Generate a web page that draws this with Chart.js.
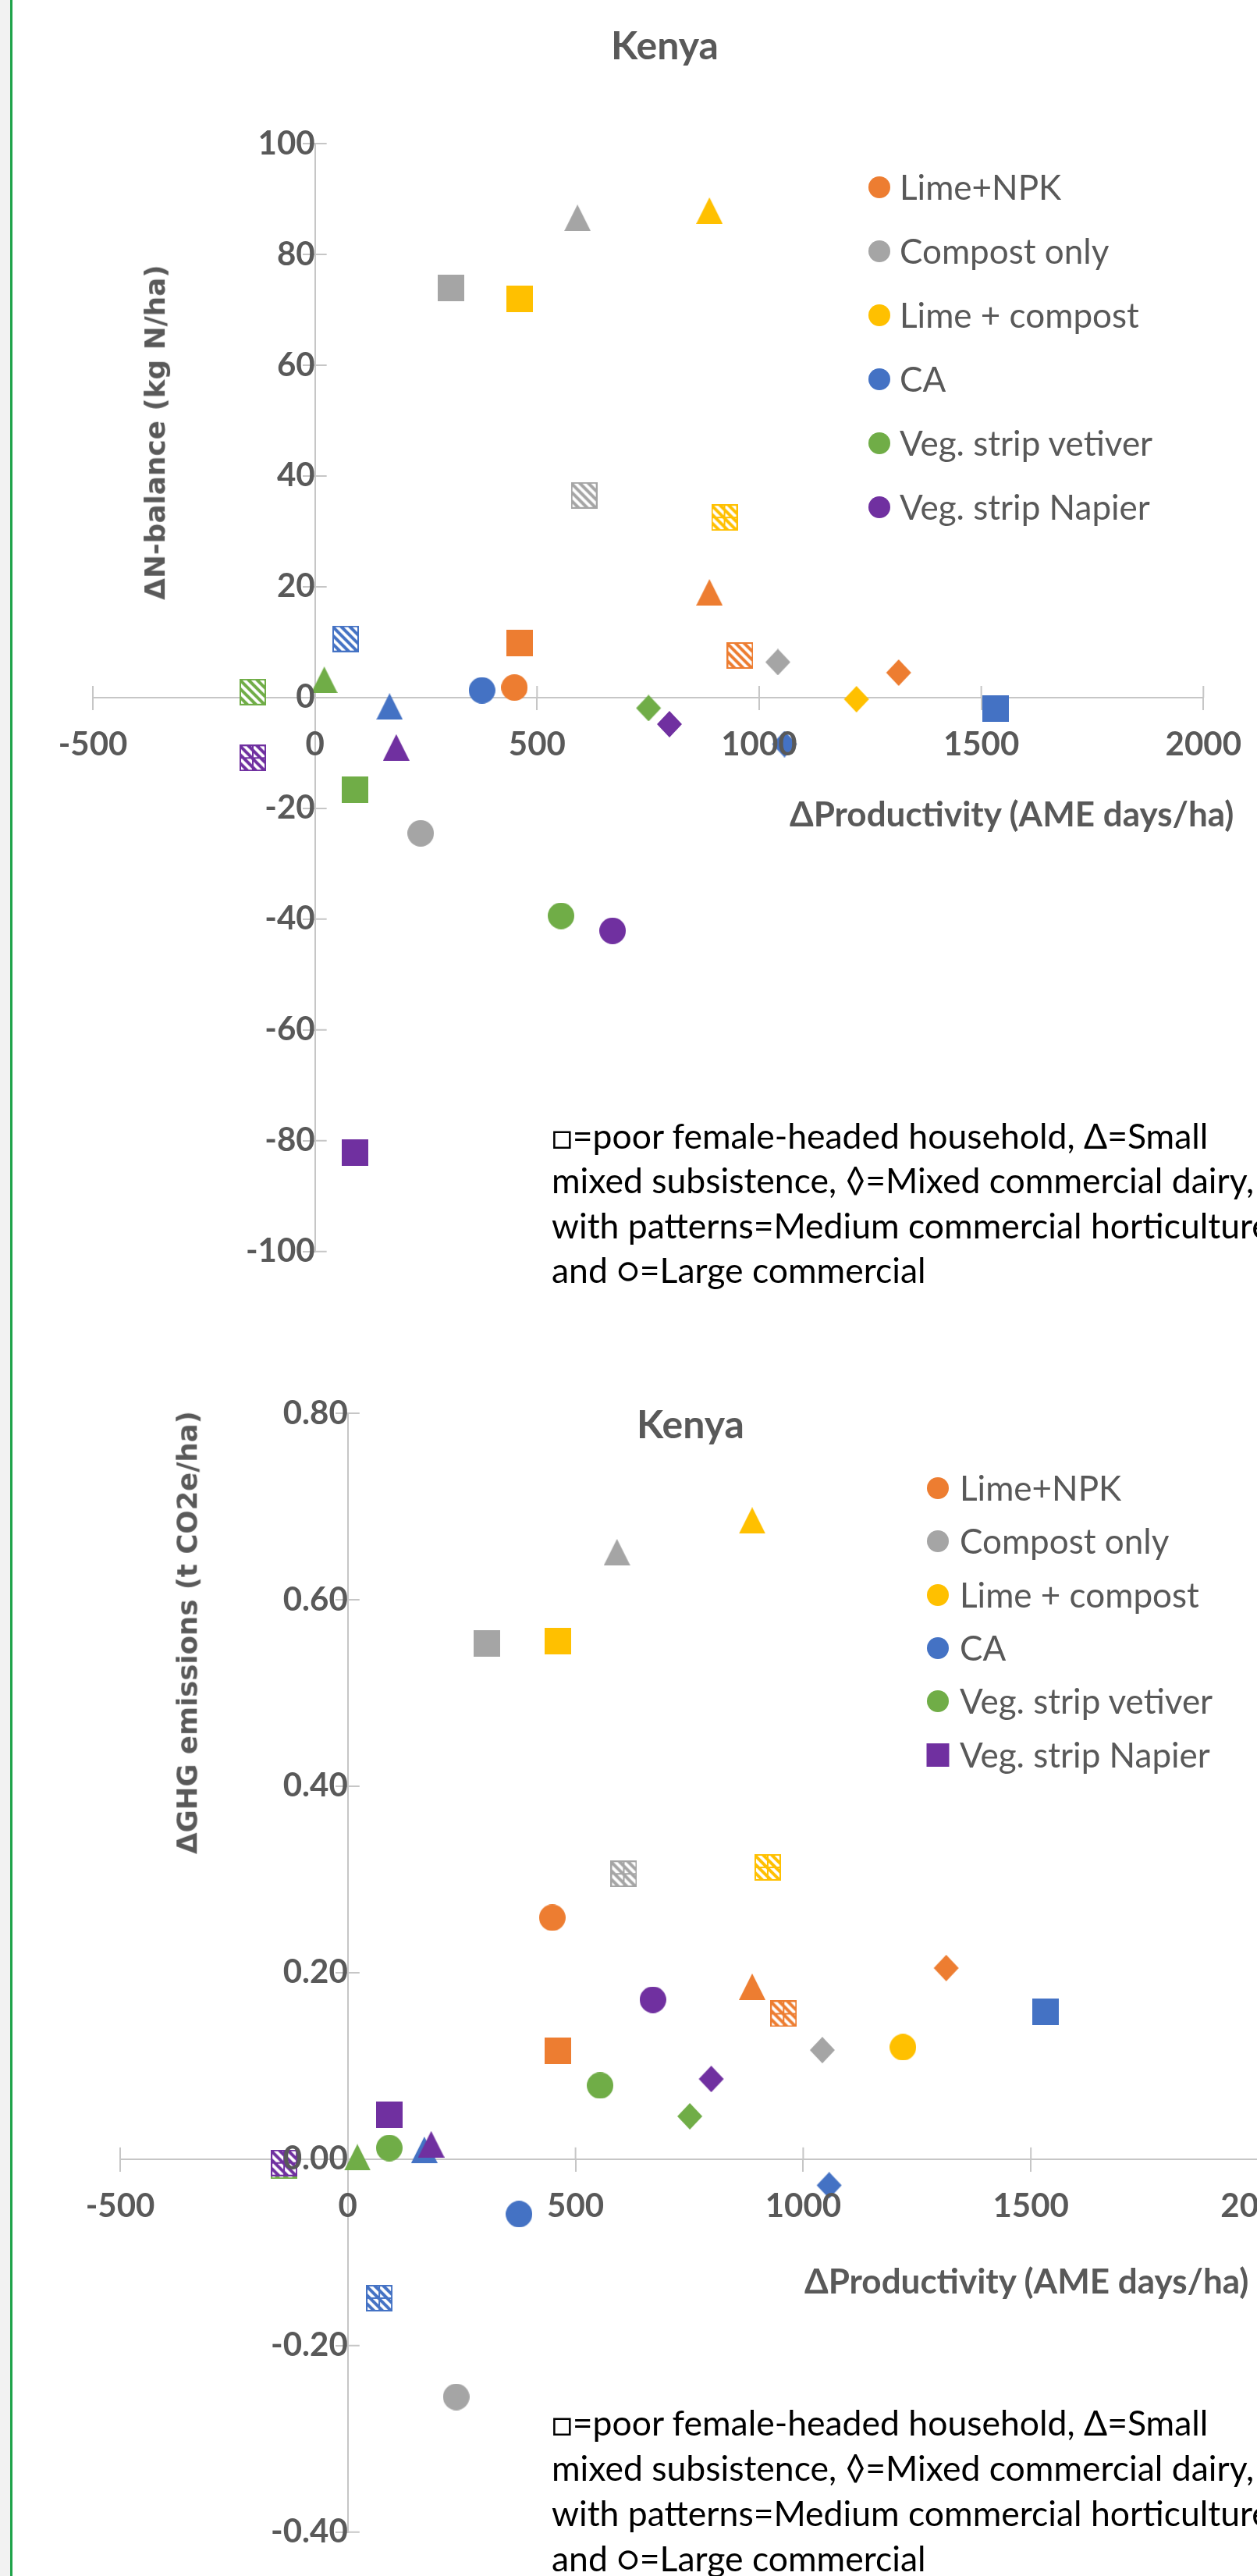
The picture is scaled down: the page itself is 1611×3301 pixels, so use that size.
<!DOCTYPE html>
<html>
<head>
<meta charset="utf-8">
<title>Kenya - N-balance and GHG vs productivity</title>
<script src="https://cdn.jsdelivr.net/npm/chart.js@4.4.1/dist/chart.umd.min.js"></script>
<style>
html, body { margin: 0; padding: 0; background: #fff; }
#page { position: relative; width: 1611px; height: 3301px; overflow: hidden; font-family: Lato, "DejaVu Sans", sans-serif; }
.edge { position: absolute; left: 0; top: 0; width: 13px; height: 3301px; background: #F2F2F2; }
.edgeLine { position: absolute; left: 13px; top: 0; width: 3px; height: 3301px; background: #1FA34A; }
canvas { position: absolute; left: 0; }
.txt { position: absolute; white-space: nowrap; line-height: 1; }
.title { font-weight: 700; color: #595959; font-size: 50px; transform: translateX(-50%); }
.xTitle { font-weight: 700; color: #595959; font-size: 44px; }
.yTitle { font-family: "DejaVu Sans", sans-serif; font-weight: 700; color: #595959; transform: translate(-50%, -50%) rotate(-90deg); }
.legendText { color: #595959; font-size: 44px; }
.legendMark { position: absolute; width: 28px; height: 28px; border-radius: 50%; transform: translate(-50%, -50%); }
.legendMark.square { border-radius: 0; width: 29px; height: 30px; }
.note { position: absolute; color: #000; font-size: 44.5px; white-space: nowrap; }
</style>
</head>
<body>
<div id="page">
  <div class="edge"></div>
  <div class="edgeLine"></div>
  <canvas id="nChart" width="1611" height="1660" style="top:0"></canvas>
  <canvas id="ghgChart" width="1700" height="1641" style="top:1660px"></canvas>

  <div class="txt title" style="left:852px; top:32px">Kenya</div>
  <div class="txt yTitle" style="left:199px; top:554px; font-size:35.8px">ΔN-balance (kg N/ha)</div>
  <div class="txt xTitle" style="left:1012px; top:1020px">ΔProductivity (AME days/ha)</div>
  <div class="note" style="left:707px; top:1426px; line-height:57.4px">□=poor female-headed household, Δ=Small<br>mixed subsistence, ◊=Mixed commercial dairy,<br>with patterns=Medium commercial horticulture<br>and ○=Large commercial</div>

  <div class="txt title" style="left:885px; top:1799px">Kenya</div>
  <div class="txt yTitle" style="left:240px; top:2092px; font-size:35.5px">ΔGHG emissions (t CO2e/ha)</div>
  <div class="txt xTitle" style="left:1031px; top:2900px">ΔProductivity (AME days/ha)</div>
  <div class="note" style="left:707px; top:3075px; line-height:58.1px">□=poor female-headed household, Δ=Small<br>mixed subsistence, ◊=Mixed commercial dairy,<br>with patterns=Medium commercial horticulture<br>and ○=Large commercial</div>
</div>

<script>
// Treatments (series) and farm types (one point per farm type in each series)
const treatments = ['Lime+NPK', 'Compost only', 'Lime + compost', 'CA', 'Veg. strip vetiver', 'Veg. strip Napier'];
const farmTypes = ['Poor female-headed household', 'Small mixed subsistence', 'Mixed commercial dairy',
                   'Medium commercial horticulture', 'Large commercial'];

// ΔProductivity (AME days/ha), order = farmTypes
const prodLimeNpk  = [461, 888, 1314, 957, 449];
const prodCompost  = [306, 591, 1042, 606, 238];
const prodLimeComp = [461, 888, 1219, 922, 1219];
const prodCA       = [1533, 168, 1057, 69, 376];
const prodVetiver  = [91, 21, 751, -140, 554];
const prodNapier   = [91, 183, 798, -140, 670];

// ΔN-balance (kg N/ha)
const nLimeNpk  = [9.9, 19.0, 4.5, 7.6, 1.8];
const nCompost  = [73.9, 86.6, 6.4, 36.5, -24.5];
const nLimeComp = [71.9, 87.9, -0.3, 32.5, null];
const nCA       = [-2.0, -1.6, -8.4, 10.6, 1.3];
const nVetiver  = [-16.6, 3.2, -1.9, 1.0, -39.4];
const nNapier   = [-82.1, -9.0, -4.8, -10.9, -42.1];

// ΔGHG emissions (t CO2e/ha)
const ghgLimeNpk  = [0.116, 0.185, 0.205, 0.156, 0.259];
const ghgCompost  = [0.553, 0.651, 0.117, 0.306, -0.255];
const ghgLimeComp = [0.556, 0.685, null, 0.313, 0.120];
const ghgCA       = [0.158, 0.010, -0.028, -0.149, -0.059];
const ghgVetiver  = [0.012, 0.002, 0.046, -0.007, 0.079];
const ghgNapier   = [0.048, 0.016, 0.086, -0.004, 0.171];

// Tick labels
const prodTicks = [-500, 0, 500, 1000, 1500, 2000];
const nTicks = [-100, -80, -60, -40, -20, 0, 20, 40, 60, 80, 100];
const ghgTicks = [-0.4, -0.2, 0, 0.2, 0.4, 0.6, 0.8];

const prodSeries = [prodLimeNpk, prodCompost, prodLimeComp, prodCA, prodVetiver, prodNapier];
const nSeries = [nLimeNpk, nCompost, nLimeComp, nCA, nVetiver, nNapier];
const ghgSeries = [ghgLimeNpk, ghgCompost, ghgLimeComp, ghgCA, ghgVetiver, ghgNapier];

const colors = ['#ED7D31', '#A5A5A5', '#FFC000', '#4472C4', '#70AD47', '#7030A0'];
const shapes = ['square', 'triangle', 'diamond', 'hatch', 'circle'];
const axisColor = '#C6C6C6';
const labelColor = '#595959';

Chart.defaults.font.family = 'Lato, "DejaVu Sans", sans-serif';

// Marker images, 34px like the original markers
function makeMarker(shape, color, cross) {
    const s = 34;
    const c = document.createElement('canvas');
    c.width = s;
    c.height = s;
    const g = c.getContext('2d');
    g.fillStyle = color;
    g.strokeStyle = color;
    if (shape === 'square') {
        g.fillRect(0, 0, s, s);
    } else if (shape === 'triangle') {
        g.beginPath();
        g.moveTo(s / 2, 0); g.lineTo(s, s); g.lineTo(0, s);
        g.closePath(); g.fill();
    } else if (shape === 'diamond') {
        g.beginPath();
        g.moveTo(s / 2, 0); g.lineTo(s - 1, s / 2); g.lineTo(s / 2, s); g.lineTo(1, s / 2);
        g.closePath(); g.fill();
    } else if (shape === 'circle') {
        g.beginPath();
        g.arc(s / 2, s / 2, s / 2, 0, Math.PI * 2);
        g.fill();
    } else {
        g.fillStyle = '#fff';
        g.fillRect(0, 0, s, s);
        g.save();
        g.beginPath(); g.rect(1, 1, s - 2, s - 2); g.clip();
        g.lineWidth = 4;
        g.beginPath();
        for (let k = -s; k <= s; k += 11) { g.moveTo(k, 0); g.lineTo(k + s, s); }
        g.stroke();
        if (cross) {
            g.lineWidth = 2;
            g.beginPath();
            g.moveTo(s / 2, 0); g.lineTo(s / 2, s);
            g.moveTo(0, s / 2); g.lineTo(s, s / 2);
            g.stroke();
        }
        g.restore();
        g.lineWidth = 2;
        g.strokeRect(1, 1, s - 2, s - 2);
    }
    return c;
}

function buildDatasets(ySeries, crossed, shapeFor) {
    return treatments.map((name, i) => ({
        label: name,
        data: prodSeries[i].map((x, j) => ({ x: x, y: ySeries[i][j] })),
        pointStyle: shapes.map((sh, j) => makeMarker(shapeFor(i, j), colors[i], crossed.includes(i))),
        pointRadius: 17,
        order: treatments.length - i
    }));
}

// Inner half of the "cross" tick marks (outer half is drawn by the scale)
const crossTicks = {
    id: 'crossTicks',
    beforeDatasetsDraw(chart) {
        const { ctx, scales } = chart;
        const x0 = scales.x.getPixelForValue(0);
        const y0 = scales.y.getPixelForValue(0);
        ctx.save();
        ctx.strokeStyle = axisColor;
        ctx.lineWidth = 2;
        ctx.beginPath();
        scales.x.ticks.forEach(t => {
            const px = scales.x.getPixelForValue(t.value);
            ctx.moveTo(px, y0); ctx.lineTo(px, y0 - 15);
        });
        scales.y.ticks.forEach(t => {
            const py = scales.y.getPixelForValue(t.value);
            ctx.moveTo(x0, py); ctx.lineTo(x0 + 15, py);
        });
        ctx.stroke();
        ctx.restore();
    }
};

function axis(values, pos, fmt, pad) {
    return {
        type: 'linear',
        position: pos,
        min: values[0],
        max: values[values.length - 1],
        afterBuildTicks: scale => { scale.ticks = values.map(v => ({ value: v })); },
        ticks: {
            color: labelColor,
            font: { size: 42, weight: 'bold' },
            padding: pad,
            autoSkip: false,
            maxRotation: 0,
            z: 1,
            callback: fmt
        },
        grid: { drawOnChartArea: false, tickLength: 15, color: axisColor, lineWidth: 2 },
        border: { color: axisColor, width: 2 }
    };
}

function makeChart(id, ySeries, yTicks, yFmt, padding, crossed, shapeFor) {
    return new Chart(document.getElementById(id), {
        type: 'scatter',
        data: { datasets: buildDatasets(ySeries, crossed, shapeFor) },
        options: {
            responsive: false,
            animation: false,
            events: [],
            layout: { padding: padding },
            plugins: { legend: { display: false }, title: { display: false }, tooltip: { enabled: false } },
            scales: {
                x: axis(prodTicks, { y: 0 }, v => String(v), 20),
                y: axis(yTicks, { x: 0 }, yFmt, 31)
            }
        },
        plugins: [crossTicks]
    });
}

makeChart('nChart', nSeries, nTicks, v => String(v),
    { left: 119, right: 54, top: 184, bottom: 52 }, [2, 5],
    (i, j) => shapes[j]);

// in this chart the vetiver point for poor female-headed households is drawn as a circle
makeChart('ghgChart', ghgSeries, ghgTicks, v => v.toFixed(2),
    { left: 154, right: 87, top: 151, bottom: 38 }, [0, 1, 2, 3, 4, 5],
    (i, j) => (i === 4 && j === 0) ? 'circle' : shapes[j]);

// Legends inside the plot area
function addLegend(markX, textX, firstY, step, squareLast) {
    const page = document.getElementById('page');
    treatments.forEach((name, i) => {
        const cy = firstY + i * step;
        const m = document.createElement('div');
        m.className = 'legendMark' + (squareLast && i === treatments.length - 1 ? ' square' : '');
        m.style.left = markX + 'px';
        m.style.top = cy + 'px';
        m.style.background = colors[i];
        page.appendChild(m);
        const t = document.createElement('div');
        t.className = 'txt legendText';
        t.textContent = name;
        t.style.left = textX + 'px';
        t.style.top = (cy - 23) + 'px';
        page.appendChild(t);
    });
}
addLegend(1127, 1153, 240, 82, false);
addLegend(1202, 1230, 1907, 68.3, true);
</script>
</body>
</html>
